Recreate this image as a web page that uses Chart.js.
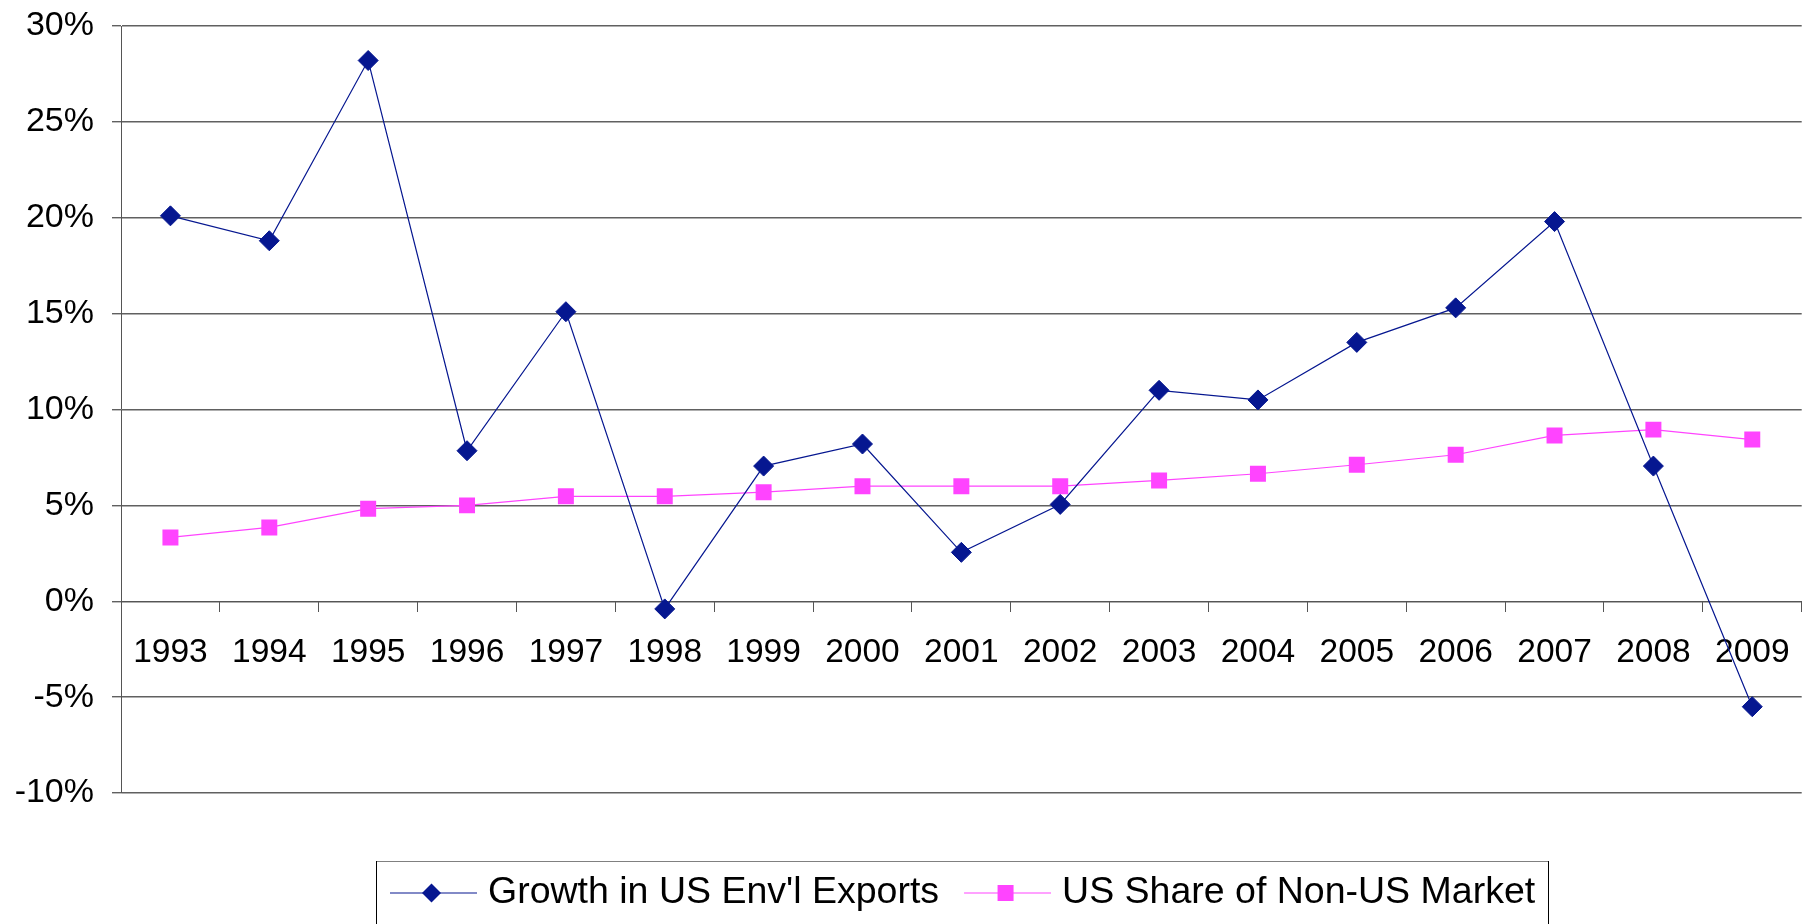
<!DOCTYPE html>
<html>
<head>
<meta charset="utf-8">
<title>US Environmental Exports</title>
<script src="https://cdn.jsdelivr.net/npm/chart.js@4.4.1/dist/chart.umd.min.js"></script>
<style>
  html, body { margin: 0; padding: 0; background: #ffffff; }
  #wrap { width: 1813px; height: 924px; position: relative; }
</style>
</head>
<body>
<div id="wrap"><canvas id="chart" width="1813" height="924"></canvas></div>
<script>
// Years on the category axis
const years = ['1993','1994','1995','1996','1997','1998','1999','2000','2001',
               '2002','2003','2004','2005','2006','2007','2008','2009'];

// Annual growth in US environmental exports (%)
const exportGrowth = [20.1, 18.8, 28.2, 7.85, 15.1, -0.4, 7.05, 8.2, 2.55,
                      5.05, 11.0, 10.5, 13.5, 15.3, 19.8, 7.05, -5.5];

// US share of the non-US environmental market (%)
const usShare = [3.33, 3.85, 4.83, 5.0, 5.47, 5.47, 5.69, 6.0, 6.0,
                 6.0, 6.3, 6.65, 7.12, 7.64, 8.65, 8.95, 8.43];

// Value axis range and step (%)
const yMin = -10;
const yMax = 30;
const yStep = 5;

const seriesNames = ["Growth in US Env'l Exports", 'US Share of Non-US Market'];

const NAVY = '#061790';
const PINK = '#ff44ff';
const FONT = '"Liberation Sans", Arial, sans-serif';

// Legend drawn under the plot: line sample with its marker, then the label
const legendPlugin = {
  id: 'boxedLegend',
  afterDraw(chart) {
    const ctx = chart.ctx;
    const sets = chart.data.datasets;
    const lineY = 893;
    const textBase = 903;
    const sampleW = 87;
    const sampleGap = 11;
    const itemGap = 25;
    const boxLeft = 376;
    const boxTop = 861;
    ctx.save();
    ctx.font = '37.5px ' + FONT;
    let x = boxLeft + 14;
    sets.forEach((ds) => {
      // line sample
      ctx.strokeStyle = ds.borderColor;
      ctx.lineWidth = 1.2;
      ctx.beginPath();
      ctx.moveTo(x, lineY);
      ctx.lineTo(x + sampleW, lineY);
      ctx.stroke();
      // marker
      const cx = x + sampleW / 2 - 2;
      ctx.fillStyle = ds.pointBackgroundColor;
      ctx.beginPath();
      if (ds.pointStyle === 'rectRot') {
        const r = 9.5;
        ctx.moveTo(cx, lineY - r);
        ctx.lineTo(cx + r, lineY);
        ctx.lineTo(cx, lineY + r);
        ctx.lineTo(cx - r, lineY);
        ctx.closePath();
      } else {
        const h = 8;
        ctx.rect(cx - h, lineY - h, 2 * h, 2 * h);
      }
      ctx.fill();
      // label
      ctx.fillStyle = '#000000';
      ctx.textBaseline = 'alphabetic';
      ctx.textAlign = 'left';
      const tx = x + sampleW + sampleGap;
      ctx.fillText(ds.label, tx, textBase);
      x = tx + ctx.measureText(ds.label).width + itemGap;
    });
    const boxRight = Math.round(x - itemGap + 13);
    // legend frame (runs off the bottom edge)
    ctx.lineWidth = 1;
    ctx.strokeStyle = '#808080';
    ctx.beginPath();
    ctx.moveTo(boxLeft, boxTop + 0.5);
    ctx.lineTo(boxRight, boxTop + 0.5);
    ctx.stroke();
    ctx.strokeStyle = '#000000';
    ctx.beginPath();
    ctx.moveTo(boxLeft + 0.5, boxTop);
    ctx.lineTo(boxLeft + 0.5, chart.height);
    ctx.moveTo(boxRight + 0.5, boxTop);
    ctx.lineTo(boxRight + 0.5, chart.height);
    ctx.stroke();
    ctx.restore();
  }
};

new Chart(document.getElementById('chart'), {
  type: 'line',
  data: {
    labels: years,
    datasets: [
      {
        label: seriesNames[0],
        data: exportGrowth,
        borderColor: NAVY,
        backgroundColor: NAVY,
        pointBackgroundColor: NAVY,
        pointBorderColor: NAVY,
        pointStyle: 'rectRot',
        pointRadius: 10,
        pointBorderWidth: 1,
        borderWidth: 1.2,
        tension: 0,
        fill: false
      },
      {
        label: seriesNames[1],
        data: usShare,
        borderColor: PINK,
        backgroundColor: PINK,
        pointBackgroundColor: PINK,
        pointBorderColor: PINK,
        pointStyle: 'rect',
        pointRadius: 11.3,
        pointBorderWidth: 0,
        borderWidth: 1.2,
        tension: 0,
        fill: false
      }
    ]
  },
  options: {
    responsive: false,
    animation: false,
    devicePixelRatio: 1,
    layout: { padding: { top: 26, bottom: 131, left: 0, right: 1 } },
    plugins: {
      legend: { display: false },
      tooltip: { enabled: false },
      title: { display: false }
    },
    scales: {
      x: {
        type: 'category',
        offset: true,
        position: { y: 0 },
        grid: {
          display: true,
          drawOnChartArea: false,
          drawTicks: true,
          tickLength: 10,
          offset: true,
          color: '#555555',
          lineWidth: 1
        },
        border: { display: true, color: '#555555', width: 1 },
        ticks: {
          color: '#000000',
          font: { family: FONT, size: 33.5 },
          padding: 21,
          maxRotation: 0,
          autoSkip: false
        }
      },
      y: {
        min: yMin,
        max: yMax,
        afterFit(scale) {
          scale.width = 121;
          scale.paddingTop = 0;
          scale.paddingBottom = 0;
        },
        grid: {
          color: '#606060',
          lineWidth: 1.4,
          drawTicks: true,
          tickLength: 9
        },
        border: { display: true, color: '#555555', width: 1 },
        ticks: {
          stepSize: yStep,
          color: '#000000',
          font: { family: FONT, size: 34 },
          padding: 18,
          callback: (v) => v + '%'
        }
      }
    }
  },
  plugins: [legendPlugin]
});
</script>
</body>
</html>
